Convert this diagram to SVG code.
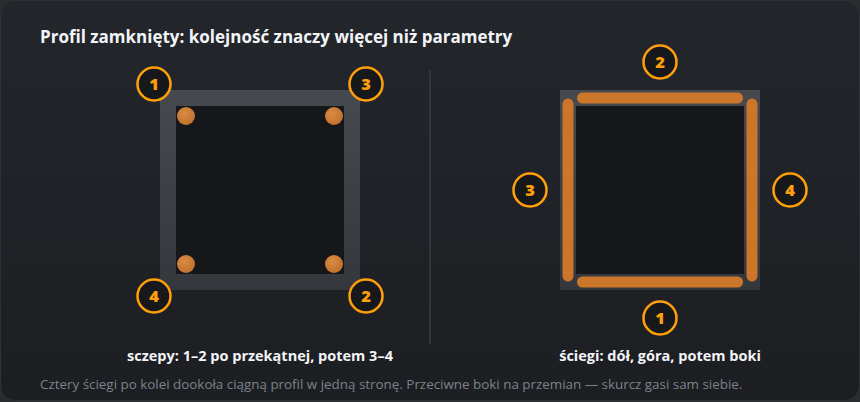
<svg xmlns="http://www.w3.org/2000/svg" width="860" height="402" viewBox="0 0 860 402">
  <defs>
    <linearGradient id="bg" x1="0" y1="0" x2="0" y2="1">
      <stop offset="0" stop-color="#23262b"/>
      <stop offset="1" stop-color="#1c1e22"/>
    </linearGradient>
    <linearGradient id="frame" x1="0" y1="0" x2="0" y2="1">
      <stop offset="0" stop-color="#46494e"/>
      <stop offset="1" stop-color="#34373b"/>
    </linearGradient>
    <radialGradient id="dot" cx="0.4" cy="0.35" r="0.7">
      <stop offset="0" stop-color="#d88c42"/>
      <stop offset="1" stop-color="#c0702e"/>
    </radialGradient>
    <style>
      .title { font-family: "Open Sans", "Noto Sans", sans-serif; font-weight: 700; font-size: 17px; fill: #f2f4f7; }
      .cap { font-family: "Open Sans", "Noto Sans", sans-serif; font-weight: 700; font-size: 14.5px; fill: #f2f4f7; text-anchor: middle; }
      .foot { font-family: "Open Sans", "Noto Sans", sans-serif; font-size: 13.4px; fill: #7c828b; }
      .badge circle { fill: #17181c; stroke: #ff9f0a; stroke-width: 2.5; }
      .badge text { font-family: "Open Sans", "Noto Sans", sans-serif; font-weight: 800; font-size: 16.5px; fill: #ff9f0a; text-anchor: middle; }
      .bead { stroke: #cc762c; stroke-width: 11; stroke-linecap: round; fill: none; }
      .inner { fill: #16171b; }
    </style>
  </defs>
  <rect x="0" y="0" width="860" height="402" fill="#2a2c30"/>
  <rect x="0.5" y="0.5" width="859" height="400" rx="14" fill="url(#bg)" stroke="#2e3136"/>
  <text class="title" x="40" y="43">Profil zamknięty: kolejność znaczy więcej niż parametry</text>

  <g id="left-profile">
    <rect x="160" y="90" width="200" height="200" fill="url(#frame)"/>
    <rect class="inner" x="176" y="106" width="168" height="168"/>
    <circle cx="186" cy="116" r="9" fill="url(#dot)"/>
    <circle cx="334" cy="116" r="9" fill="url(#dot)"/>
    <circle cx="186" cy="264" r="9" fill="url(#dot)"/>
    <circle cx="334" cy="264" r="9" fill="url(#dot)"/>
  </g>
  <g id="left-badge-1" class="badge"><circle cx="154" cy="84" r="16.5"/><text x="154" y="90">1</text></g>
  <g id="left-badge-3" class="badge"><circle cx="366" cy="84" r="16.5"/><text x="366" y="90">3</text></g>
  <g id="left-badge-4" class="badge"><circle cx="154" cy="296" r="16.5"/><text x="154" y="302">4</text></g>
  <g id="left-badge-2" class="badge"><circle cx="366" cy="296" r="16.5"/><text x="366" y="302">2</text></g>
  <text class="cap" x="260" y="361">sczepy: 1–2 po przekątnej, potem 3–4</text>

  <g id="divider"><rect x="429" y="70" width="2" height="274" fill="#32353a"/></g>

  <g id="right-profile">
    <rect x="560" y="90" width="200" height="200" fill="url(#frame)"/>
    <rect class="inner" x="576" y="106" width="168" height="168"/>
    <line class="bead" x1="582.5" y1="98" x2="737.5" y2="98"/>
    <line class="bead" x1="582.5" y1="282" x2="737.5" y2="282"/>
    <line class="bead" x1="568" y1="104" x2="568" y2="276"/>
    <line class="bead" x1="752" y1="104" x2="752" y2="276"/>
  </g>
  <g id="right-badge-2" class="badge"><circle cx="660" cy="62" r="16.5"/><text x="660" y="68">2</text></g>
  <g id="right-badge-3" class="badge"><circle cx="530" cy="190" r="16.5"/><text x="530" y="196">3</text></g>
  <g id="right-badge-4" class="badge"><circle cx="790" cy="190" r="16.5"/><text x="790" y="196">4</text></g>
  <g id="right-badge-1" class="badge"><circle cx="660" cy="318" r="16.5"/><text x="660" y="324">1</text></g>
  <text class="cap" x="660" y="361">ściegi: dół, góra, potem boki</text>

  <text class="foot" x="40" y="389">Cztery ściegi po kolei dookoła ciągną profil w jedną stronę. Przeciwne boki na przemian — skurcz gasi sam siebie.</text>
</svg>
